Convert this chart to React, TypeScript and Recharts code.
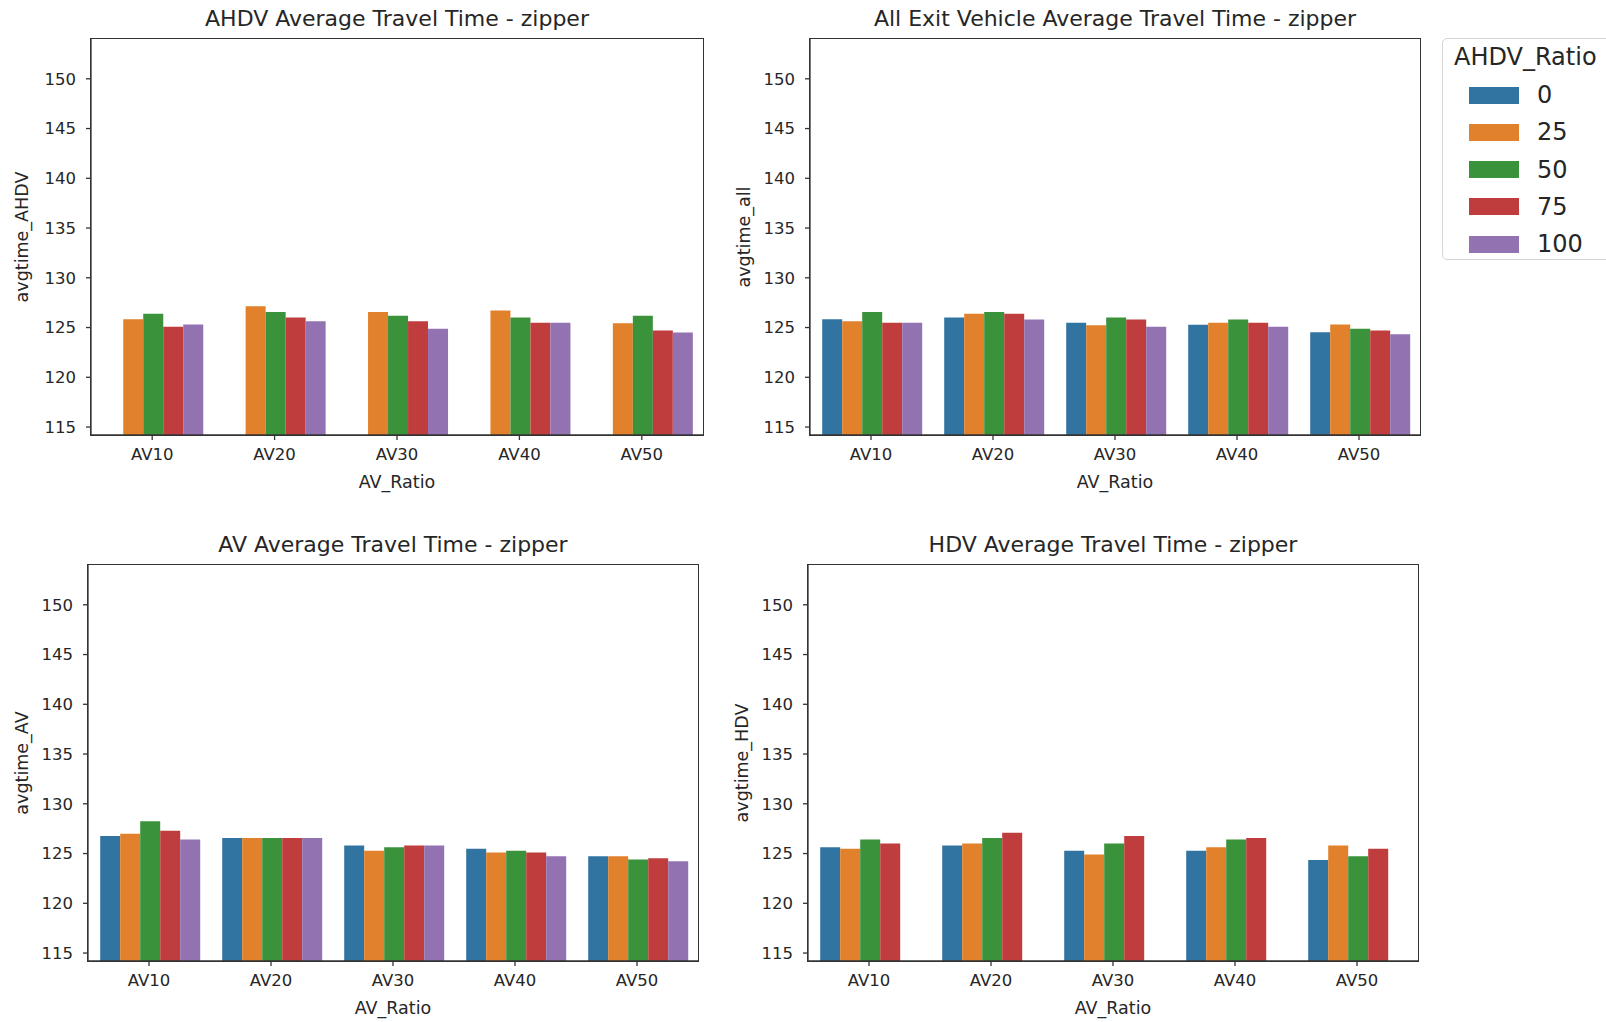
import { Bar, BarChart, XAxis, YAxis } from "recharts";

const categories = ["AV10", "AV20", "AV30", "AV40", "AV50"];
const ahdvRatios = ["0", "25", "50", "75", "100"];
const colors = ["#3274a1", "#e1812c", "#3a923a", "#c03d3e", "#9372b2"];
const yTicks = [115, 120, 125, 130, 135, 140, 145, 150];

// one row per AHDV_Ratio (0, 25, 50, 75, 100), one value per AV_Ratio
const avgtimeAHDV = [
  [null, null, null, null, null],
  [125.84, 127.15, 126.55, 126.72, 125.44],
  [126.38, 126.55, 126.18, 126.0, 126.18],
  [125.07, 126.0, 125.64, 125.47, 124.7],
  [125.3, 125.64, 124.87, 125.47, 124.5],
];
const avgtimeAll = [
  [125.84, 126.0, 125.47, 125.27, 124.53],
  [125.64, 126.38, 125.24, 125.47, 125.3],
  [126.55, 126.55, 126.0, 125.8, 124.87],
  [125.47, 126.38, 125.8, 125.47, 124.7],
  [125.47, 125.8, 125.07, 125.07, 124.33],
];
const avgtimeAV = [
  [126.76, 126.55, 125.81, 125.47, 124.73],
  [126.99, 126.55, 125.27, 125.1, 124.73],
  [128.24, 126.55, 125.64, 125.27, 124.39],
  [127.3, 126.55, 125.81, 125.1, 124.53],
  [126.42, 126.55, 125.81, 124.73, 124.22],
];
const avgtimeHDV = [
  [125.64, 125.81, 125.27, 125.27, 124.36],
  [125.47, 126.01, 124.9, 125.64, 125.81],
  [126.42, 126.55, 126.01, 126.42, 124.73],
  [126.01, 127.09, 126.76, 126.55, 125.47],
  [null, null, null, null, null],
];

const font = "'DejaVu Sans', sans-serif";
const ink = "#262626";
const axisStyle = { stroke: "#333", strokeWidth: 1.3 };
const tickStyle = { fill: ink, fontSize: 16.5, fontFamily: font };

type PanelProps = {
  title: string;
  ylabel: string;
  values: (number | null)[][];
  left: number;
  top: number;
  w: number;
  h: number;
  ylabelX: number;
};

const panels: PanelProps[] = [
  { title: "AHDV Average Travel Time - zipper", ylabel: "avgtime_AHDV", values: avgtimeAHDV, left: 91, top: 39, w: 612, h: 396, ylabelX: 23 },
  { title: "All Exit Vehicle Average Travel Time - zipper", ylabel: "avgtime_all", values: avgtimeAll, left: 810, top: 39, w: 610, h: 396, ylabelX: 745 },
  { title: "AV Average Travel Time - zipper", ylabel: "avgtime_AV", values: avgtimeAV, left: 88, top: 565, w: 610, h: 396, ylabelX: 23 },
  { title: "HDV Average Travel Time - zipper", ylabel: "avgtime_HDV", values: avgtimeHDV, left: 808, top: 565, w: 610, h: 396, ylabelX: 743 },
];

function Txt({ x, y, size, rotate, children }: { x: number; y: number; size: number; rotate?: boolean; children: string }) {
  return (
    <div
      style={{
        position: "absolute",
        left: x,
        top: y,
        transform: `translate(-50%, -50%)${rotate ? " rotate(-90deg)" : ""}`,
        fontFamily: font,
        fontSize: size,
        lineHeight: 1,
        color: ink,
        whiteSpace: "nowrap",
      }}
    >
      {children}
    </div>
  );
}

function Panel({ title, ylabel, values, left, top, w, h, ylabelX }: PanelProps) {
  const data = categories.map((cat, i) => {
    const row: Record<string, string | number | null> = { cat };
    ahdvRatios.forEach((r, j) => {
      row[r] = values[j][i];
    });
    return row;
  });
  const axW = 80;
  const mTop = 10;
  const mRight = 10;
  const xH = 50;
  const cx = left + w / 2;

  return (
    <>
      <div style={{ position: "absolute", left: left - axW, top: top - mTop }}>
        <BarChart
          width={w + axW + mRight}
          height={h + mTop + xH}
          data={data}
          margin={{ top: mTop, right: mRight, left: 0, bottom: 0 }}
          barCategoryGap="10%"
          barGap={0}
        >
          <XAxis dataKey="cat" height={xH} interval={0} tickSize={5} tickMargin={8} axisLine={axisStyle} tickLine={axisStyle} tick={tickStyle} />
          <YAxis
            width={axW}
            domain={[114.2, 154]}
            ticks={yTicks}
            allowDataOverflow
            tickSize={5}
            tickMargin={10}
            axisLine={axisStyle}
            tickLine={axisStyle}
            tick={tickStyle}
          />
          {ahdvRatios.map((r, j) => (
            <Bar key={r} dataKey={r} fill={colors[j]} isAnimationActive={false} />
          ))}
        </BarChart>
      </div>
      {/* frame of the axes box */}
      <div
        style={{
          position: "absolute",
          left: left - 0.65,
          top: top - 0.65,
          width: w + 1.3,
          height: h + 1.3,
          border: "1.3px solid #333",
          boxSizing: "border-box",
          pointerEvents: "none",
        }}
      />
      <Txt x={cx} y={top - 20} size={22}>{title}</Txt>
      <Txt x={cx} y={top + h + 48} size={17.5}>AV_Ratio</Txt>
      <Txt x={ylabelX} y={top + h / 2} size={17.5} rotate>{ylabel}</Txt>
    </>
  );
}

function LegendBox() {
  return (
    <div
      style={{
        position: "absolute",
        left: 1442,
        top: 38,
        width: 175,
        height: 222,
        border: "1.3px solid #d6d6d6",
        borderRadius: 5,
        boxSizing: "border-box",
        fontFamily: font,
        color: ink,
      }}
    >
      <div style={{ position: "absolute", left: 11, top: 4, fontSize: 24, lineHeight: "28px" }}>AHDV_Ratio</div>
      {ahdvRatios.map((r, j) => (
        <div key={r} style={{ position: "absolute", left: 26, top: 42 + j * 37.3, height: 28, display: "flex", alignItems: "center" }}>
          <div style={{ width: 50, height: 17, background: colors[j] }} />
          <div style={{ marginLeft: 18, fontSize: 24, lineHeight: "28px" }}>{r}</div>
        </div>
      ))}
    </div>
  );
}

export default function App() {
  return (
    <div style={{ position: "absolute", left: 0, top: 0, width: 1606, height: 1022, background: "#fff", overflow: "hidden" }}>
      {panels.map((p) => (
        <Panel key={p.title} {...p} />
      ))}
      <LegendBox />
    </div>
  );
}
